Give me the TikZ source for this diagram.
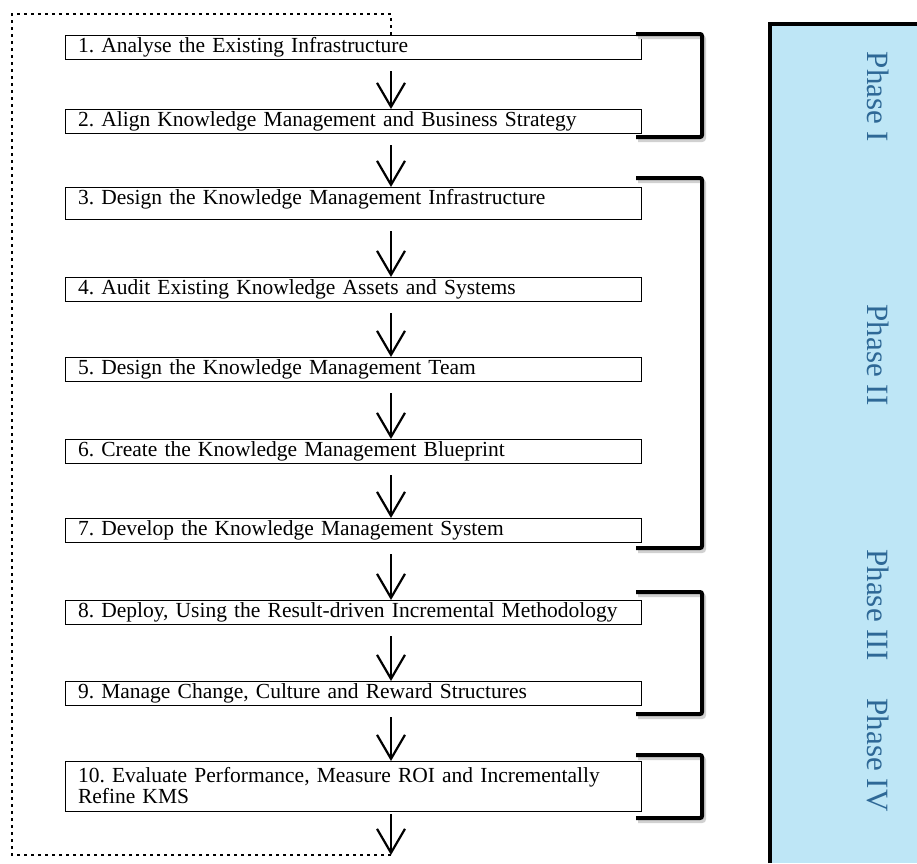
\documentclass[tikz,border=0pt]{standalone}
\usepackage{fontspec}
\setmainfont{Liberation Serif}
\usetikzlibrary{arrows.meta, positioning}

\definecolor{panelblue}{RGB}{190,230,246}
\definecolor{phaseink}{RGB}{46,104,150}

\begin{document}
\frenchspacing
\begin{tikzpicture}[
    x=1pt, y=-1pt,
    stepbox/.style={rectangle, draw, line width=0.9pt, outer sep=0pt, minimum width=576pt, text width=550pt, inner xsep=13pt, inner ysep=2.5pt, align=left, text height=14.5pt, text depth=4.5pt, font=\fontsize{21.5}{21}\selectfont},
    flow/.style={-{Straight Barb[length=24pt, width=28pt]}, line width=2.2pt},
    loopline/.style={line width=2.8pt, dash pattern=on 2.6pt off 4.4pt},
    bracket/.style={line width=4pt, rounded corners=2pt, preaction={draw=black!18, line width=4pt, transform canvas={shift={(2pt,-3pt)}}}},
    phase/.style={rotate=-90, text=phaseink, font=\fontsize{31}{31}\selectfont},
]
\useasboundingbox (0,0) rectangle (917,863);

% phase panel
\fill[panelblue] (770,24) rectangle (917,863);
\draw[line width=4pt] (770,863) -- (770,24) -- (917,24);

\node[phase] (ph1) at (878,97) {Phase I};
\node[phase] (ph2) at (878,355) {Phase II};
\node[phase] (ph3) at (878,605) {Phase III};
\node[phase] (ph4) at (878,755) {Phase IV};

% steps
\node[stepbox, anchor=north west] (b1) at (65,35) {1. Analyse the Existing Infrastructure};
\node[stepbox, below=50pt of b1] (b2) {2. Align Knowledge Management and Business Strategy};
\node[stepbox, below=54pt of b2, text depth=12.5pt] (b3) {3. Design the Knowledge Management Infrastructure};
\node[stepbox, below=58pt of b3] (b4) {4. Audit Existing Knowledge Assets and Systems};
\node[stepbox, below=56pt of b4] (b5) {5. Design the Knowledge Management Team};
\node[stepbox, below=58pt of b5] (b6) {6. Create the Knowledge Management Blueprint};
\node[stepbox, below=55pt of b6] (b7) {7. Develop the Knowledge Management System};
\node[stepbox, below=58pt of b7] (b8) {8. Deploy, Using the Result-driven Incremental Methodology};
\node[stepbox, below=57pt of b8] (b9) {9. Manage Change, Culture and Reward Structures};
\node[stepbox, below=56pt of b9, text height=, text depth=, minimum height=50pt] (b10) {10. Evaluate Performance, Measure ROI and Incrementally\\Refine KMS};

\coordinate (loopend) at ([xshift=38pt, yshift=-44pt]b10.south);

% arrows
\foreach \a/\b in {b1/b2, b2/b3, b3/b4, b4/b5, b5/b6, b6/b7, b7/b8, b8/b9, b9/b10}
    \draw[flow] ([xshift=38pt, yshift=-12pt]\a.south) -- ([xshift=38pt]\b.north);
\draw[flow] ([xshift=38pt, yshift=-3pt]b10.south) -- (loopend);

% feedback loop
\draw[loopline] (loopend) -- ++(-379pt,0) |- ([xshift=38pt, yshift=21pt]b1.north) -- ([xshift=38pt]b1.north);

% phase brackets
\draw[bracket] ([xshift=-5pt, yshift=1pt]b1.north east) -- ++(66pt,0) |- ([xshift=-5pt, yshift=-4pt]b2.south east);
\draw[bracket] ([xshift=-5pt, yshift=9pt]b3.north east) -- ++(66pt,0) |- ([xshift=-5pt, yshift=-6pt]b7.south east);
\draw[bracket] ([xshift=-5pt, yshift=8pt]b8.north east) -- ++(66pt,0) |- ([xshift=-5pt, yshift=-9pt]b9.south east);
\draw[bracket] ([xshift=-5pt, yshift=6pt]b10.north east) -- ++(66pt,0) |- ([xshift=-5pt, yshift=-7pt]b10.south east);

\end{tikzpicture}
\end{document}
